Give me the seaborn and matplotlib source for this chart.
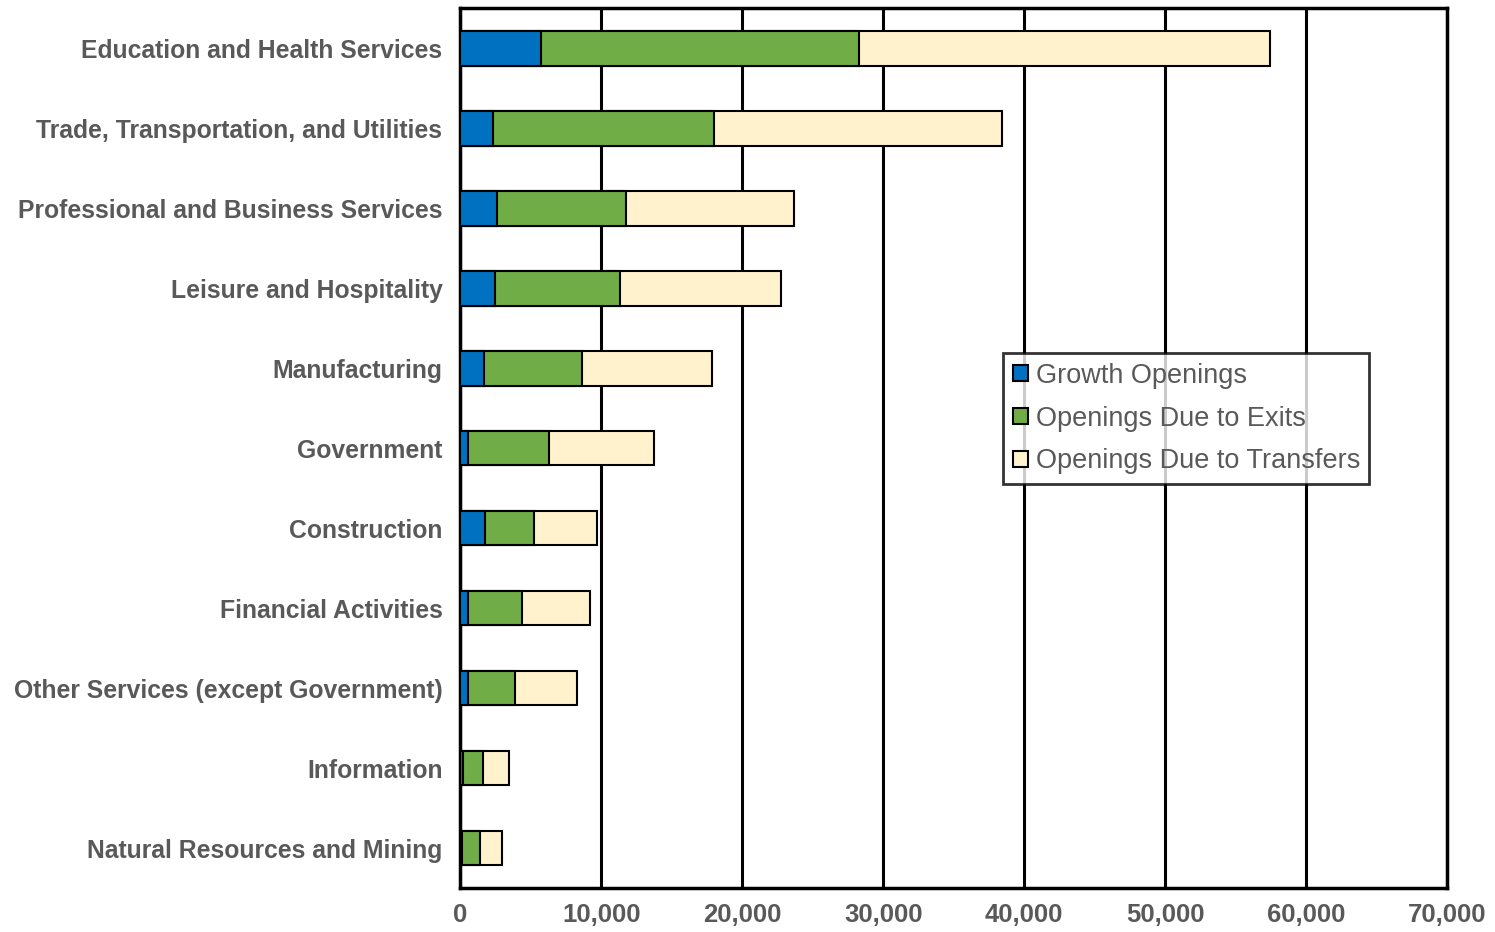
import pandas as pd
import matplotlib.pyplot as plt
import seaborn as sns

sns.set_theme(style='white')
plt.rcParams['font.family'] = ['Liberation Sans', 'DejaVu Sans']

industries = ['Education and Health Services', 'Trade, Transportation, and Utilities',
              'Professional and Business Services', 'Leisure and Hospitality',
              'Manufacturing', 'Government', 'Construction', 'Financial Activities',
              'Other Services (except Government)', 'Information',
              'Natural Resources and Mining']
growth = [5690, 2330, 2580, 2470, 1640, 560, 1730, 570, 560, 150, 140]
exits = [22600, 15690, 9190, 8820, 7000, 5740, 3470, 3780, 3340, 1460, 1250]
transfers = [29150, 20380, 11880, 11470, 9200, 7410, 4500, 4860, 4360, 1810, 1580]

df = pd.DataFrame({'industry': industries, 'growth': growth,
                   'exits': exits, 'transfers': transfers})
df['c1'] = df['growth']
df['c2'] = df['growth'] + df['exits']
df['c3'] = df['c2'] + df['transfers']

grey = '#595959'
fig, ax = plt.subplots(figsize=(14.95, 9.32), dpi=100)
fig.subplots_adjust(left=0.308, right=0.968, top=0.991, bottom=0.047)

layers = [('c3', '#FFF2CC', 'Openings Due to Transfers'),
          ('c2', '#70AD47', 'Openings Due to Exits'),
          ('c1', '#0070C0', 'Growth Openings')]
for col, color, lab in layers:
    sns.barplot(data=df, x=col, y='industry', orient='h', color=color,
                saturation=1, edgecolor='black', linewidth=1.5, width=0.43,
                label=lab, ax=ax, zorder=3)

ax.set_xlim(0, 70000)
ax.set_xticks(range(0, 70001, 10000))
ax.set_xticklabels([f'{v:,}' for v in range(0, 70001, 10000)])
ax.set_xlabel('')
ax.set_ylabel('')
ax.xaxis.grid(True, color='black', linewidth=2.2)
ax.set_axisbelow(True)
for s in ax.spines.values():
    s.set_color('black')
    s.set_linewidth(2.5)
ax.tick_params(axis='y', length=0, pad=13)
ax.tick_params(axis='x', length=0, pad=11)
for t in ax.get_yticklabels():
    t.set_fontsize(17.8)
    t.set_fontweight('bold')
    t.set_color(grey)
for t in ax.get_xticklabels():
    t.set_fontsize(18.5)
    t.set_fontweight('bold')
    t.set_color(grey)

h, l = ax.get_legend_handles_labels()
leg = ax.legend(h[::-1], l[::-1], loc='upper left', bbox_to_anchor=(0.55, 0.608),
                fontsize=19.5, frameon=True, fancybox=False, edgecolor='black',
                handlelength=0.55, handleheight=0.55, handletextpad=0.3,
                borderpad=0.35, labelspacing=0.62, borderaxespad=0)
leg.get_frame().set_linewidth(2)
for t in leg.get_texts():
    t.set_color(grey)

fig.savefig('out.png', dpi=100)
